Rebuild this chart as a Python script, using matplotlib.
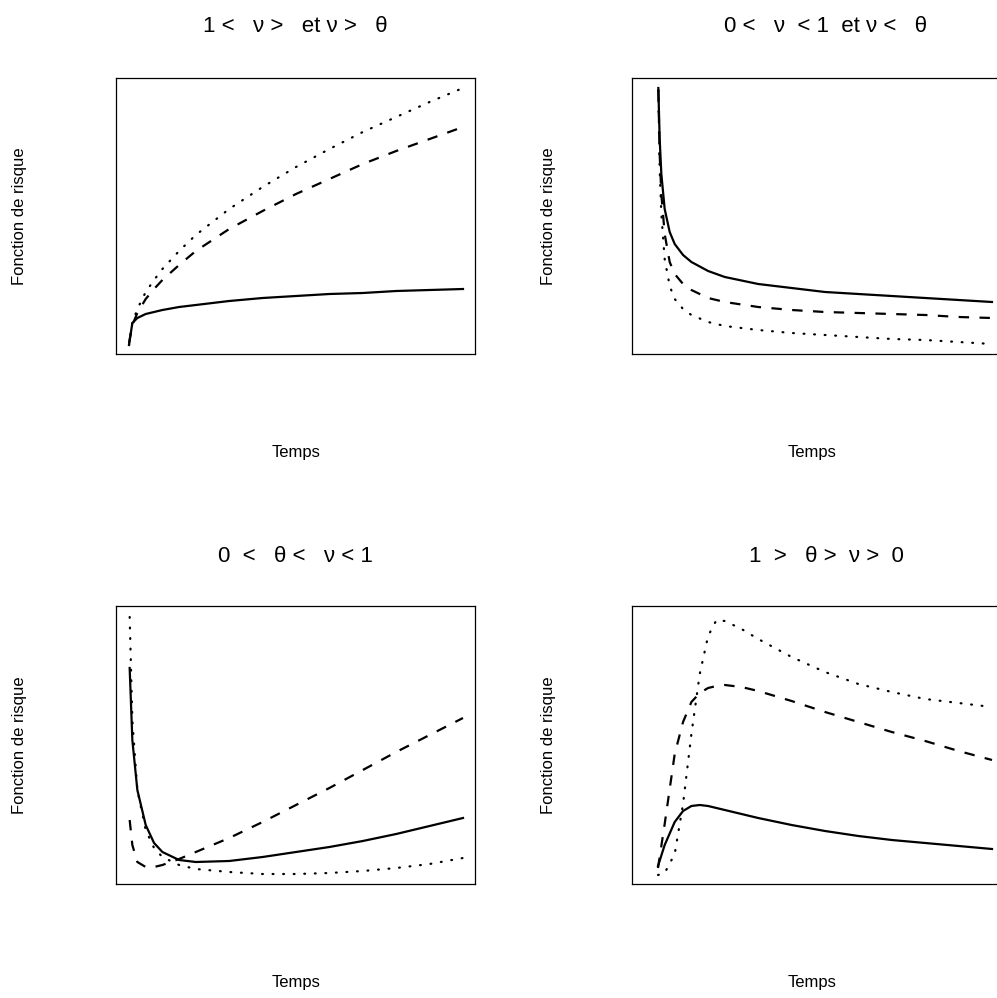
import matplotlib
matplotlib.use("Agg")
import matplotlib.pyplot as plt

plt.rcParams['font.family'] = ['Liberation Sans', 'DejaVu Sans']
plt.rcParams['lines.scale_dashes'] = False

W, H = 997, 998

# ---------------- data (time, hazard) ----------------
# Panel 1 : 1 < nu > et nu > theta
t1 = [0, 0.1, 0.25, 0.5, 0.75, 1, 1.5, 2, 2.5, 3, 4, 5, 6, 7, 8, 9, 10]
p1_solid = [0.09, 0.31, 0.36, 0.40, 0.42, 0.44, 0.47, 0.49, 0.51, 0.53, 0.56, 0.58, 0.60, 0.61, 0.63, 0.64, 0.65]
p1_dash = [0.11, 0.29, 0.41, 0.55, 0.65, 0.74, 0.89, 1.03, 1.14, 1.25, 1.43, 1.60, 1.75, 1.90, 2.03, 2.15, 2.27]
p1_dot = [0.09, 0.31, 0.45, 0.62, 0.74, 0.85, 1.03, 1.19, 1.32, 1.45, 1.67, 1.87, 2.05, 2.22, 2.37, 2.52, 2.66]

# Panel 2 : 0 < nu < 1 et nu < theta
t2 = [0.01, 0.05, 0.1, 0.2, 0.35, 0.5, 0.75, 1, 1.5, 2, 3, 4, 5, 6, 7, 8, 9, 10]
p2_solid = [2.66, 2.15, 1.80, 1.45, 1.22, 1.10, 0.99, 0.92, 0.83, 0.77, 0.70, 0.66, 0.62, 0.60, 0.58, 0.56, 0.54, 0.52]
p2_dash = [2.64, 2.00, 1.60, 1.20, 0.92, 0.80, 0.70, 0.64, 0.56, 0.52, 0.47, 0.44, 0.42, 0.41, 0.40, 0.39, 0.37, 0.36]
p2_dot = [2.64, 1.85, 1.40, 0.95, 0.68, 0.55, 0.45, 0.39, 0.32, 0.28, 0.24, 0.21, 0.19, 0.17, 0.15, 0.14, 0.12, 0.10]

# Panel 3 : 0 < theta < nu < 1
t3 = [0.02, 0.1, 0.25, 0.5, 0.75, 1, 1.5, 2, 3, 4, 5, 6, 7, 8, 9, 10]
p3_solid = [2.16, 1.44, 0.94, 0.59, 0.41, 0.32, 0.24, 0.22, 0.23, 0.27, 0.32, 0.37, 0.43, 0.50, 0.58, 0.66]
p3_dash = [0.64, 0.39, 0.22, 0.17, 0.17, 0.19, 0.25, 0.32, 0.46, 0.62, 0.79, 0.96, 1.14, 1.32, 1.49, 1.66]
p3_dot = [2.67, 1.64, 0.94, 0.54, 0.36, 0.27, 0.19, 0.15, 0.12, 0.10, 0.10, 0.11, 0.13, 0.16, 0.20, 0.26]

# Panel 4 : 1 > theta > nu > 0
t4 = [0, 0.2, 0.5, 0.75, 1, 1.25, 1.5, 1.75, 2, 2.5, 3, 4, 5, 6, 7, 8, 9, 10]
p4_solid = [0.18, 0.39, 0.62, 0.73, 0.78, 0.79, 0.78, 0.76, 0.74, 0.70, 0.66, 0.59, 0.53, 0.48, 0.44, 0.41, 0.38, 0.35]
p4_dash = [0.16, 0.60, 1.30, 1.62, 1.82, 1.91, 1.96, 1.98, 1.99, 1.97, 1.93, 1.83, 1.72, 1.62, 1.52, 1.43, 1.33, 1.24]
p4_dot = [0.09, 0.11, 0.30, 0.80, 1.50, 2.10, 2.48, 2.64, 2.63, 2.55, 2.45, 2.27, 2.12, 2.00, 1.92, 1.85, 1.81, 1.77]

titles = ["1 <   \u03bd >   et \u03bd >   \u03b8",
          "0 <   \u03bd  < 1  et \u03bd <   \u03b8",
          "0  <   \u03b8 <   \u03bd < 1",
          "1  >   \u03b8 >  \u03bd >  0"]
xlabel = "Temps"
ylabel = "Fonction de risque"

# ---------------- layout (pixel based) ----------------
fig = plt.figure(figsize=(W / 100, H / 100), dpi=100)

def px_axes(x0, y0, x1, y1):
    return fig.add_axes([x0 / W, 1 - y1 / H, (x1 - x0) / W, (y1 - y0) / H])

panels = [
    dict(box=(116, 78, 475, 354), t=t1, ys=(p1_solid, p1_dash, p1_dot), x0px=129),
    dict(box=(632, 78, 1020, 354), t=t2, ys=(p2_solid, p2_dash, p2_dot), x0px=658),
    dict(box=(116, 606, 475, 884), t=t3, ys=(p3_solid, p3_dash, p3_dot), x0px=129),
    dict(box=(632, 606, 1020, 884), t=t4, ys=(p4_solid, p4_dash, p4_dot), x0px=658),
]

styles = [dict(linestyle='-'),
          dict(linestyle=(0, (7.5, 7.5))),
          dict(linestyle=(0, (0.6, 7.0)), dash_capstyle='round')]

scale = 33.4  # px per time unit
for i, p in enumerate(panels):
    x0, y0, x1, y1 = p['box']
    ax = px_axes(x0, y0, x1, y1)
    for y, st in zip(p['ys'], styles):
        ax.plot(p['t'], y, color='black', lw=1.6, **st)
    ax.set_xlim((x0 - p['x0px']) / scale, (x1 - p['x0px']) / scale)
    ax.set_ylim(0, (y1 - y0) / 100)
    ax.set_xticks([])
    ax.set_yticks([])
    for s in ax.spines.values():
        s.set_linewidth(0.9)
    cx = (x0 + x1) / 2
    row_off = 0 if y0 < 500 else 530
    fig.text(cx / W, 1 - (32 + row_off) / H, titles[i], ha='center', va='baseline', fontsize=16)
    lx = 296 if x0 < 500 else 812
    fig.text(lx / W, 1 - (452 + row_off) / H, xlabel, ha='center', va='center', fontsize=12)
    yx = 20 if x0 < 500 else 548
    fig.text(yx / W, 1 - ((y0 + y1) / 2) / H, ylabel, ha='center', va='center',
             rotation=90, fontsize=12)

fig.savefig("out.png", dpi=100)
